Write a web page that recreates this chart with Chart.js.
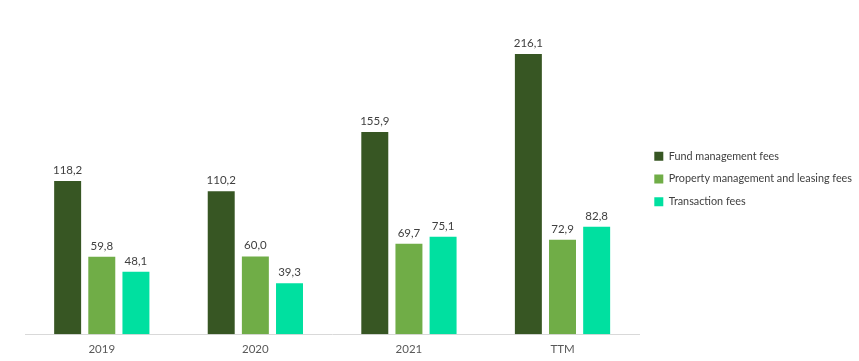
<!DOCTYPE html>
<html><head><meta charset="utf-8">
<script src="https://cdn.jsdelivr.net/npm/chart.js@4/dist/chart.umd.min.js"></script>
<style>html,body{margin:0;padding:0;background:#fff}#wrap{width:859px;height:361px;position:relative}</style>
</head><body><div id="wrap"><canvas id="c"></canvas></div>
<script>
const categories = ["2019", "2020", "2021", "TTM"];
const fundManagementFees = [118.2, 110.2, 155.9, 216.1];
const propertyManagementFees = [59.8, 60.0, 69.7, 72.9];
const transactionFees = [48.1, 39.3, 75.1, 82.8];
const seriesNames = ["Fund management fees", "Property management and leasing fees", "Transaction fees"];

const FONT = "Lato, 'Open Sans', sans-serif";
const labelPlugin = {
  id: 'vals',
  beforeDraw(chart) {
    const lg = chart.legend;
    if (lg && !lg._shifted) {
      lg.top -= 4; lg.bottom -= 4;
      lg.left += 3; lg.right += 3;
      lg._shifted = true;
    }
  },
  afterLayout(chart) { if (chart.legend) chart.legend._shifted = false; },
  afterDatasetsDraw(chart) {
    const ctx = chart.ctx;
    ctx.save();
    ctx.font = "11.5px " + FONT;
    ctx.fillStyle = "#404040";
    ctx.textAlign = "center";
    ctx.textBaseline = "bottom";
    chart.data.datasets.forEach((ds, i) => {
      chart.getDatasetMeta(i).data.forEach((bar, j) => {
        ctx.fillText(ds.data[j].toFixed(1).replace('.', ','), bar.x, bar.y - 5);
      });
    });
    ctx.restore();
  }
};

new Chart(document.getElementById('c'), {
  type: 'bar',
  data: {
    labels: categories,
    datasets: [
      {label: seriesNames[0], data: fundManagementFees, backgroundColor: '#375623'},
      {label: seriesNames[1], data: propertyManagementFees, backgroundColor: '#70AD47'},
      {label: seriesNames[2], data: transactionFees, backgroundColor: '#00E0A0'}
    ]
  },
  options: {
    responsive: true,
    maintainAspectRatio: false,
    animation: false,
    datasets: {bar: {categoryPercentage: 0.667, barPercentage: 0.79}},
    layout: {padding: {left: 25, top: 10, right: 0, bottom: 5}},
    scales: {
      x: {
        grid: {display: false},
        border: {display: true, color: '#d9d9d9'},
        ticks: {color: '#595959', font: {family: FONT, size: 11.5}, padding: 0}
      },
      y: {display: false, min: 0, max: 250}
    },
    plugins: {
      legend: {
        position: 'right',
        labels: {boxWidth: 9, boxHeight: 9, padding: 12, color: '#404040', font: {family: FONT, size: 10.8}}
      },
      tooltip: {enabled: false}
    }
  },
  plugins: [labelPlugin]
});
</script></body></html>
